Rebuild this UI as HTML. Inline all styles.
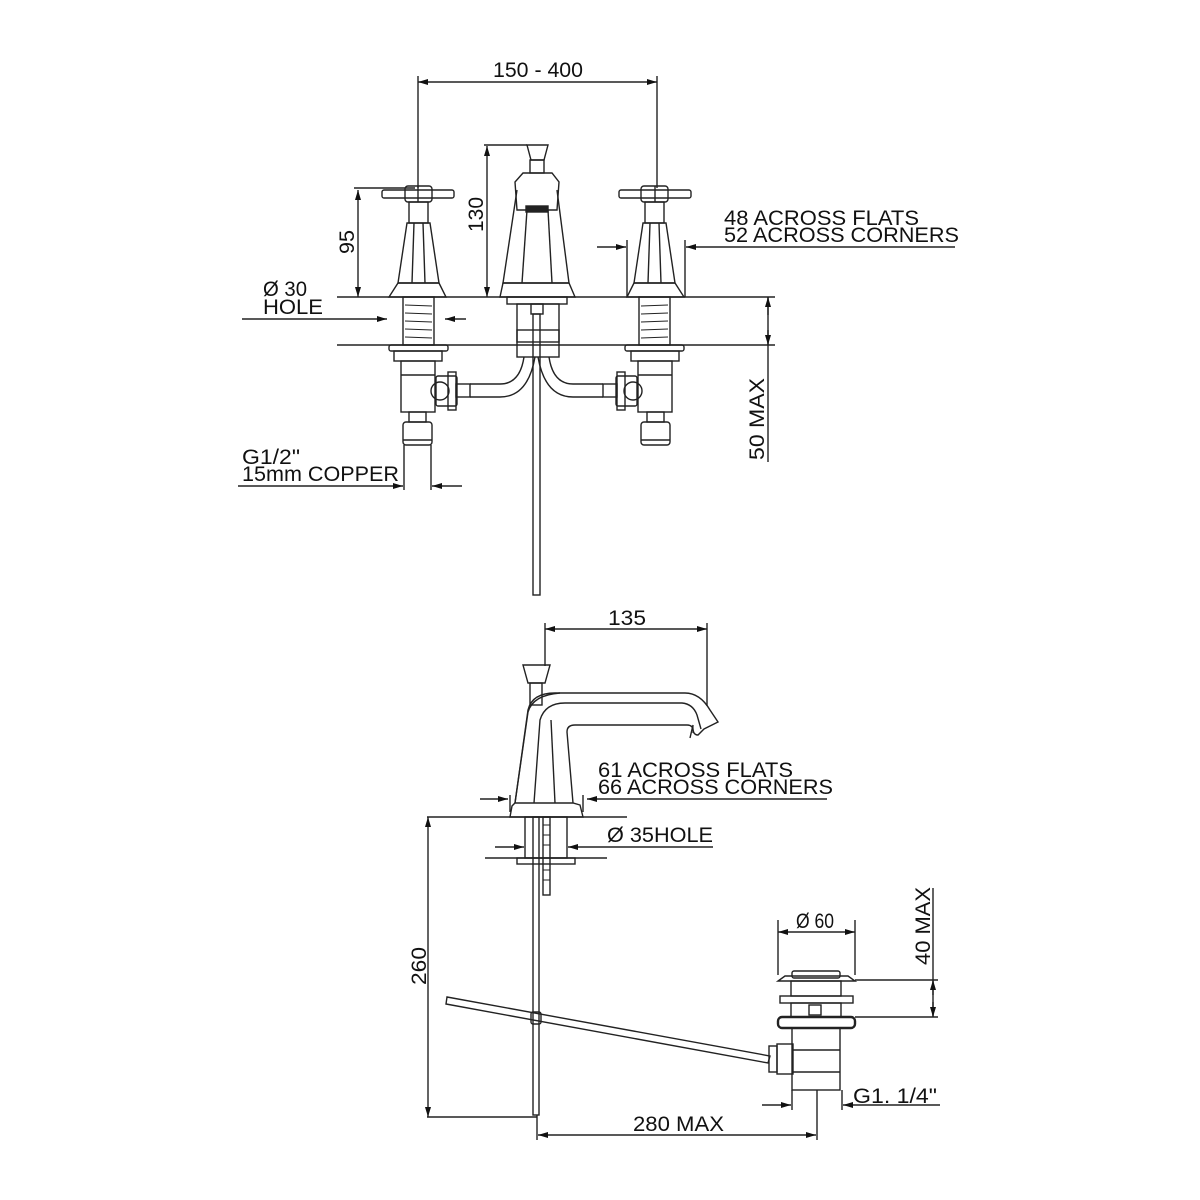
<!DOCTYPE html>
<html><head><meta charset="utf-8"><style>
html,body{margin:0;padding:0;background:#fff;}
svg{display:block}
text{font-family:"Liberation Sans",sans-serif;fill:#111;font-size:21px}
</style></head><body>
<svg width="1200" height="1200" viewBox="0 0 1200 1200" xmlns="http://www.w3.org/2000/svg">
<defs>
<marker id="a" viewBox="0 0 10 6" refX="10" refY="3" markerWidth="10" markerHeight="6" orient="auto-start-reverse" markerUnits="userSpaceOnUse"><path d="M0,0 L10,3 L0,6 z" fill="#111"/></marker>
</defs>
<g fill="none" stroke="#222" stroke-width="1.4">
<line x1="418" y1="82" x2="657" y2="82" marker-start="url(#a)" marker-end="url(#a)"/>
<line x1="418" y1="76" x2="418" y2="188"/>
<line x1="657" y1="76" x2="657" y2="188"/>
<line x1="337" y1="297" x2="775" y2="297"/>
<line x1="337" y1="345" x2="775" y2="345"/>
<line x1="358" y1="190" x2="358" y2="297" marker-start="url(#a)" marker-end="url(#a)"/>
<line x1="354" y1="188" x2="415" y2="188"/>
<line x1="487" y1="146" x2="487" y2="297" marker-start="url(#a)" marker-end="url(#a)"/>
<line x1="484" y1="145" x2="527" y2="145"/>
<line x1="768" y1="297" x2="768" y2="462"/>
<line x1="768" y1="315" x2="768" y2="297" marker-end="url(#a)"/>
<line x1="768" y1="330" x2="768" y2="345" marker-end="url(#a)"/>
<line x1="597" y1="247" x2="626" y2="247" marker-end="url(#a)"/>
<line x1="627" y1="240" x2="627" y2="297"/>
<line x1="955" y1="247" x2="686" y2="247" marker-end="url(#a)"/>
<line x1="685" y1="240" x2="685" y2="297"/>
<line x1="242" y1="319" x2="387" y2="319" marker-end="url(#a)"/>
<line x1="466" y1="319" x2="445" y2="319" marker-end="url(#a)"/>
<line x1="238" y1="486" x2="403" y2="486" marker-end="url(#a)"/>
<line x1="462" y1="486" x2="432" y2="486" marker-end="url(#a)"/>
<line x1="404" y1="445" x2="404" y2="490"/>
<line x1="431" y1="445" x2="431" y2="490"/>

<g id="valve">
<rect x="382" y="190" width="72" height="8" rx="2"/>
<rect x="405" y="186" width="27" height="16" rx="3"/>
<line x1="418" y1="186" x2="418" y2="202"/>
<rect x="409" y="202" width="19" height="21"/>
<path d="M407,223 L430,223 L439,283 L398,283 Z"/>
<line x1="414" y1="223" x2="412" y2="283"/><line x1="423" y1="223" x2="425" y2="283"/>
<path d="M398,283 L439,283 L446,297 L389,297 Z"/>
<rect x="403" y="297" width="31" height="48"/>
<g stroke-width="1"><line x1="405" y1="305" x2="432" y2="306"/><line x1="405" y1="313" x2="432" y2="314"/><line x1="405" y1="321" x2="432" y2="322"/><line x1="405" y1="329" x2="432" y2="330"/><line x1="405" y1="337" x2="432" y2="338"/></g>
<rect x="389" y="345" width="59" height="6" rx="2"/>
<rect x="394" y="351" width="48" height="10"/>
<rect x="401" y="361" width="34" height="51"/>
<line x1="401" y1="375" x2="435" y2="375"/>
<rect x="409" y="412" width="17" height="10"/>
<rect x="403" y="422" width="29" height="23" rx="3"/>
<line x1="403" y1="440" x2="432" y2="440"/>
</g>
<use href="#valve" transform="translate(1073,0) scale(-1,1)"/>
<circle cx="440" cy="391" r="9"/>
<rect x="436" y="376" width="21" height="30" rx="2"/>
<rect x="448" y="372" width="8" height="38"/>
<rect x="456" y="384" width="14" height="13"/>
<path d="M470,384 L500,384 Q520,384 524,357 M470,397 L500,397 Q528,397 535,357"/>
<circle cx="633" cy="391" r="9"/>
<rect x="616" y="376" width="21" height="30" rx="2"/>
<rect x="617" y="372" width="8" height="38"/>
<rect x="603" y="384" width="14" height="13"/>
<path d="M603,384 L573,384 Q553,384 549,357 M603,397 L573,397 Q545,397 538,357"/>
<path d="M527,145 L548,145 L544,160 L531,160 Z"/>
<rect x="530" y="160" width="14" height="13"/>
<path d="M523,173 L552,173 L559,182 L557,210 L517,210 L515,182 Z"/>
<rect x="526" y="206" width="22" height="6" fill="#222"/>
<path d="M517,190 L503,283 L569,283 L557,190"/>
<line x1="527" y1="210" x2="522" y2="283"/><line x1="548" y1="210" x2="552" y2="283"/>
<path d="M503,283 L569,283 L575,297 L500,297 Z"/>
<rect x="507" y="297" width="60" height="7"/>
<rect x="517" y="304" width="42" height="53"/>
<rect x="517" y="330" width="42" height="12"/>
<rect x="531" y="304" width="12" height="10"/>
<rect x="533" y="314" width="7" height="281"/>

<line x1="545" y1="629" x2="707" y2="629" marker-start="url(#a)" marker-end="url(#a)"/>
<line x1="545" y1="623" x2="545" y2="666"/>
<line x1="707" y1="623" x2="707" y2="706"/>
<path d="M523,665 L550,665 L545,683 L528,683 Z"/>
<rect x="530" y="683" width="12" height="22"/>
<path d="M515,803 L528,710 Q532,693 555,693 L685,693 Q700,693 710,710 L718,722 L704,729 L698,735 Q692,735 693,725 L690,738"/>
<path d="M515,803 L528,712 Q533,695 560,693"/>
<path d="M534,803 L540,720 Q545,703 565,703 L682,703 Q693,704 697,715 L701,729"/>
<path d="M573,803 L567,732 Q567,725 575,725 L687,725 Q694,725 693,733"/>
<line x1="555" y1="803" x2="551" y2="720"/>
<path d="M515,803 L573,803 L580,805 L583,817 L510,817 L512,806 Z"/>
<line x1="427" y1="817" x2="627" y2="817"/>
<rect x="525" y="817" width="42" height="41"/>
<rect x="517" y="858" width="58" height="6"/>
<line x1="485" y1="858" x2="607" y2="858"/>
<rect x="543" y="817" width="7" height="78"/>
<g stroke-width="1"><line x1="543" y1="825" x2="550" y2="825"/><line x1="543" y1="835" x2="550" y2="835"/><line x1="543" y1="845" x2="550" y2="845"/><line x1="543" y1="870" x2="550" y2="870"/><line x1="543" y1="880" x2="550" y2="880"/></g>
<rect x="533" y="817" width="6" height="298"/>
<line x1="480" y1="799" x2="508" y2="799" marker-end="url(#a)"/>
<line x1="510" y1="795" x2="510" y2="812"/>
<line x1="827" y1="799" x2="587" y2="799" marker-end="url(#a)"/>
<line x1="583" y1="795" x2="583" y2="812"/>
<line x1="495" y1="847" x2="524" y2="847" marker-end="url(#a)"/>
<line x1="713" y1="847" x2="568" y2="847" marker-end="url(#a)"/>
<line x1="428" y1="817" x2="428" y2="1117" marker-start="url(#a)" marker-end="url(#a)"/>
<line x1="427" y1="1117" x2="537" y2="1117"/>
<path d="M447,997 L770,1056 L768,1063 L446,1004 Z"/>
<rect x="531" y="1012" width="10" height="12" rx="2"/>
<rect x="792" y="971" width="48" height="7" rx="2"/>
<path d="M778,981 L855,981 L848,976 L785,976 Z"/>
<rect x="791" y="981" width="50" height="15"/>
<rect x="780" y="996" width="73" height="7"/>
<rect x="791" y="1003" width="50" height="14"/>
<rect x="809" y="1005" width="12" height="10"/>
<rect x="778" y="1017" width="77" height="11" rx="4" stroke-width="2.4"/>
<rect x="792" y="1028" width="48" height="62"/>
<line x1="792" y1="1050" x2="840" y2="1050"/>
<line x1="792" y1="1072" x2="840" y2="1072"/>
<rect x="777" y="1044" width="16" height="30"/>
<rect x="769" y="1046" width="8" height="26"/>
<line x1="778" y1="932" x2="855" y2="932" marker-start="url(#a)" marker-end="url(#a)"/>
<line x1="778" y1="920" x2="778" y2="975"/>
<line x1="855" y1="920" x2="855" y2="975"/>
<line x1="933" y1="888" x2="933" y2="1017"/>
<line x1="933" y1="995" x2="933" y2="980" marker-end="url(#a)"/>
<line x1="933" y1="1002" x2="933" y2="1017" marker-end="url(#a)"/>
<line x1="855" y1="980" x2="938" y2="980"/>
<line x1="855" y1="1017" x2="938" y2="1017"/>
<line x1="762" y1="1105" x2="791" y2="1105" marker-end="url(#a)"/>
<line x1="940" y1="1105" x2="843" y2="1105" marker-end="url(#a)"/>
<line x1="792" y1="1090" x2="792" y2="1110"/>
<line x1="842" y1="1090" x2="842" y2="1110"/>
<line x1="538" y1="1135" x2="816" y2="1135" marker-start="url(#a)" marker-end="url(#a)"/>
<line x1="537" y1="1115" x2="537" y2="1140"/>
<line x1="817" y1="1090" x2="817" y2="1140"/>
</g>

<g>
<text x="493" y="77" textLength="90" lengthAdjust="spacingAndGlyphs">150 - 400</text>
<text transform="translate(354,254) rotate(-90)" textLength="24" lengthAdjust="spacingAndGlyphs">95</text>
<text transform="translate(483,232) rotate(-90)" textLength="35" lengthAdjust="spacingAndGlyphs">130</text>
<text transform="translate(764,460) rotate(-90)" textLength="82" lengthAdjust="spacingAndGlyphs">50 MAX</text>
<text x="724" y="225" textLength="195" lengthAdjust="spacingAndGlyphs">48 ACROSS FLATS</text>
<text x="724" y="242" textLength="235" lengthAdjust="spacingAndGlyphs">52 ACROSS CORNERS</text>
<text x="263" y="296" textLength="44" lengthAdjust="spacingAndGlyphs">Ø 30</text>
<text x="263" y="314" textLength="60" lengthAdjust="spacingAndGlyphs">HOLE</text>
<text x="242" y="464" textLength="58" lengthAdjust="spacingAndGlyphs">G1/2"</text>
<text x="242" y="481" textLength="157" lengthAdjust="spacingAndGlyphs">15mm COPPER</text>
<text x="608" y="625" textLength="38" lengthAdjust="spacingAndGlyphs">135</text>
<text x="598" y="777" textLength="195" lengthAdjust="spacingAndGlyphs">61 ACROSS FLATS</text>
<text x="598" y="794" textLength="235" lengthAdjust="spacingAndGlyphs">66 ACROSS CORNERS</text>
<text x="607" y="842" textLength="106" lengthAdjust="spacingAndGlyphs">Ø 35HOLE</text>
<text transform="translate(426,985) rotate(-90)" textLength="38" lengthAdjust="spacingAndGlyphs">260</text>
<text x="796" y="928" font-size="18" textLength="38" lengthAdjust="spacingAndGlyphs">Ø 60</text>
<text transform="translate(930,965) rotate(-90)" textLength="78" lengthAdjust="spacingAndGlyphs">40 MAX</text>
<text x="853" y="1103" font-size="19" textLength="84" lengthAdjust="spacingAndGlyphs">G1. 1/4"</text>
<text x="633" y="1131" textLength="91" lengthAdjust="spacingAndGlyphs">280 MAX</text>
</g>
</svg>
</body></html>
